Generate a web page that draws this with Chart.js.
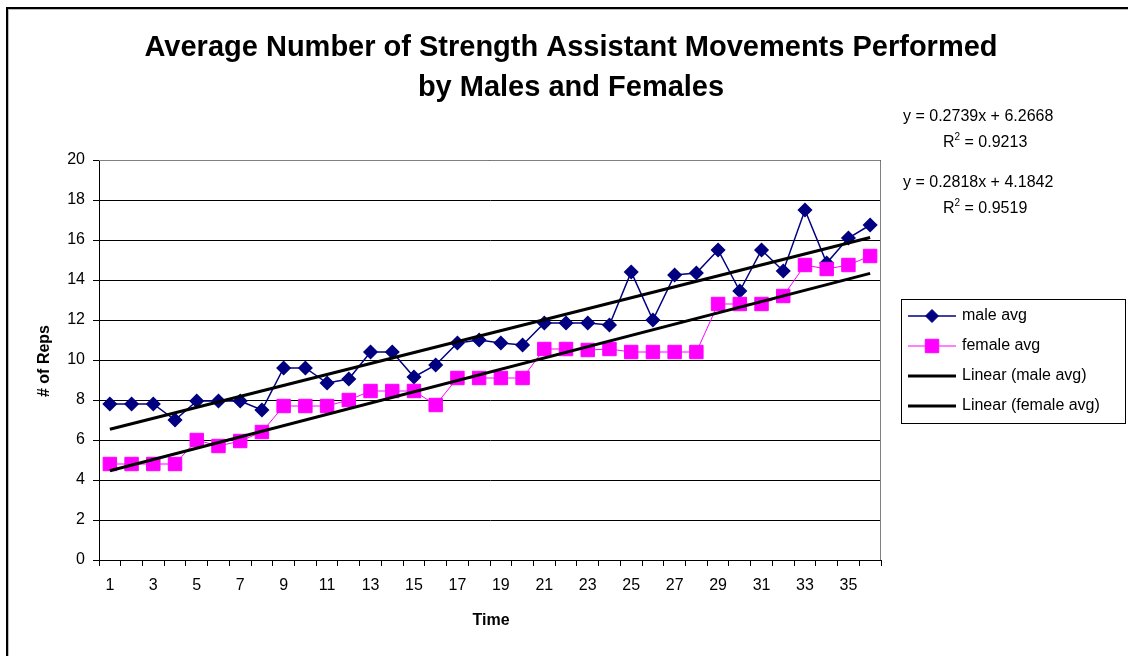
<!DOCTYPE html>
<html lang="en">
<head>
  <meta charset="utf-8">
  <title>Strength Assistant Movements</title>
  <script src="https://cdn.jsdelivr.net/npm/chart.js"></script>
  <style>
    body {
      margin: 0;
      background: #fff;
    }
    .wrap {
      position: relative;
      width: 1128px;
      height: 656px;
      overflow: hidden;
    }
    .frame {
      position: absolute;
      left: 6px;
      top: 7px;
      width: 1140px;
      height: 670px;
      border-left: 2px solid #000;
      border-top: 2px solid #000;
      box-shadow: inset 1px 1px 0 #bbb;
    }
    canvas {
      position: absolute;
      left: 0;
      top: 0;
    }
  </style>
</head>
<body>
  <div class="wrap">
    <div class="frame"></div>
    <canvas id="chart" width="1128" height="656"></canvas>
  </div>
  <script>
    // Data
    const timeLabels = ['1','2','3','4','5','6','7','8','9','10','11','12','13','14','15','16','17','18',
                        '19','20','21','22','23','24','25','26','27','28','29','30','31','32','33','34','35','36'];
    const maleAvg = [7.8, 7.8, 7.8, 7.0, 7.95, 7.95, 7.95, 7.5, 9.6, 9.6, 8.85, 9.05,
                     10.4, 10.4, 9.15, 9.75, 10.85, 11.0, 10.85, 10.75, 11.85, 11.85, 11.85, 11.75,
                     14.4, 12.0, 14.25, 14.35, 15.5, 13.45, 15.5, 14.45, 17.5, 14.85, 16.1, 16.75];
    const femaleAvg = [4.8, 4.8, 4.8, 4.8, 6.0, 5.7, 5.95, 6.4, 7.7, 7.7, 7.7, 8.0,
                       8.45, 8.45, 8.45, 7.75, 9.1, 9.1, 9.1, 9.1, 10.55, 10.55, 10.5, 10.55,
                       10.4, 10.4, 10.4, 10.4, 12.8, 12.8, 12.8, 13.2, 14.75, 14.55, 14.75, 15.2];
    // Trendline equations as printed on the chart: [slope, intercept, R2]
    const maleFit = [0.2739, 6.2668, 0.9213];
    const femaleFit = [0.2818, 4.1842, 0.9519];
    const yTicks = [0, 2, 4, 6, 8, 10, 12, 14, 16, 18, 20];

    const FONT = "'Liberation Sans', Arial, sans-serif";
    const NAVY = '#000080';
    const MAGENTA = '#ff00ff';

    // trendline: only the two end points, the gap is spanned
    function trendData(fit) {
      const n = timeLabels.length;
      return timeLabels.map((t, i) => (i === 0 || i === n - 1) ? fit[0] * Number(t) + fit[1] : null);
    }

    const decorations = {
      id: 'decorations',
      beforeDatasetsDraw(chart) {
        const ctx = chart.ctx;
        const a = chart.chartArea;
        ctx.save();
        ctx.strokeStyle = '#808080';
        ctx.lineWidth = 1;
        ctx.beginPath();
        ctx.moveTo(a.left, a.top + 0.5);
        ctx.lineTo(a.right - 0.5, a.top + 0.5);
        ctx.lineTo(a.right - 0.5, a.bottom);
        ctx.stroke();
        ctx.restore();
      },
      afterDraw(chart) {
        const ctx = chart.ctx;
        ctx.save();
        ctx.fillStyle = '#000';

        // title
        ctx.font = 'bold 29px ' + FONT;
        ctx.textAlign = 'center';
        ctx.textBaseline = 'middle';
        ctx.fillText('Average Number of Strength Assistant Movements Performed', 571, 48);
        ctx.fillText('by Males and Females', 571, 88);

        // axis titles
        ctx.font = 'bold 16px ' + FONT;
        ctx.fillText('Time', 491, 621);
        ctx.save();
        ctx.translate(45, 361);
        ctx.rotate(-Math.PI / 2);
        ctx.fillText('# of Reps', 0, 0);
        ctx.restore();

        // trendline equations
        function equation(fit, y) {
          ctx.font = '16px ' + FONT;
          ctx.textAlign = 'left';
          ctx.fillText('y = ' + fit[0].toFixed(4) + 'x + ' + fit[1].toFixed(4), 903, y);
          let x = 943;
          ctx.fillText('R', x, y + 26);
          x += ctx.measureText('R').width;
          ctx.font = '10px ' + FONT;
          ctx.fillText('2', x, y + 20);
          x += ctx.measureText('2').width;
          ctx.font = '16px ' + FONT;
          ctx.fillText(' = ' + fit[2].toFixed(4), x, y + 26);
        }
        equation(maleFit, 117);
        equation(femaleFit, 183);

        // legend
        ctx.strokeStyle = '#000';
        ctx.lineWidth = 1;
        ctx.strokeRect(901.5, 299.5, 224, 124);
        const rows = [316, 346, 376, 406];
        chart.data.datasets.forEach((ds, i) => {
          const y = rows[i];
          ctx.strokeStyle = ds.borderColor;
          ctx.lineWidth = ds.borderWidth;
          ctx.beginPath();
          ctx.moveTo(908, y);
          ctx.lineTo(956, y);
          ctx.stroke();
          if (ds.pointRadius > 0) {
            ctx.fillStyle = ds.pointBackgroundColor;
            ctx.strokeStyle = ds.pointBorderColor;
            ctx.lineWidth = 1;
            Chart.helpers.drawPoint(ctx, {
              pointStyle: ds.pointStyle,
              radius: ds.pointRadius,
              borderWidth: 1,
              rotation: 0
            }, 932, y);
          }
          ctx.fillStyle = '#000';
          ctx.font = '16px ' + FONT;
          ctx.textAlign = 'left';
          ctx.fillText(ds.label, 962, y);
        });
        ctx.restore();
      }
    };

    new Chart(document.getElementById('chart'), {
      type: 'line',
      data: {
        labels: timeLabels,
        datasets: [
          {
            label: 'male avg',
            data: maleAvg,
            borderColor: NAVY,
            borderWidth: 1.5,
            pointStyle: 'rectRot',
            pointRadius: 6.5,
            pointBackgroundColor: NAVY,
            pointBorderColor: NAVY,
            tension: 0,
            order: 2
          },
          {
            label: 'female avg',
            data: femaleAvg,
            borderColor: MAGENTA,
            borderWidth: 1,
            pointStyle: 'rect',
            pointRadius: 9.5,
            pointBackgroundColor: MAGENTA,
            pointBorderColor: MAGENTA,
            tension: 0,
            order: 1
          },
          {
            label: 'Linear (male avg)',
            data: trendData(maleFit),
            borderColor: '#000',
            borderWidth: 3,
            pointRadius: 0,
            spanGaps: true,
            order: 0
          },
          {
            label: 'Linear (female avg)',
            data: trendData(femaleFit),
            borderColor: '#000',
            borderWidth: 3,
            pointRadius: 0,
            spanGaps: true,
            order: 0
          }
        ]
      },
      options: {
        responsive: false,
        animation: false,
        layout: { padding: { top: 160, right: 247, left: 0, bottom: 0 } },
        plugins: {
          legend: { display: false },
          title: { display: false },
          tooltip: { enabled: false }
        },
        scales: {
          x: {
            offset: true,
            afterFit(scale) { scale.height = 96; },
            grid: {
              offset: true,
              drawOnChartArea: false,
              color: '#000',
              tickLength: 6
            },
            border: { color: '#000', width: 1 },
            ticks: {
              autoSkip: false,
              maxRotation: 0,
              padding: 10,
              color: '#000',
              font: { family: FONT, size: 16 },
              callback(value, index) {
                return index % 2 === 0 ? timeLabels[index] : '';
              }
            }
          },
          y: {
            min: 0,
            max: 20,
            afterFit(scale) { scale.width = 99; },
            afterBuildTicks(scale) {
              scale.ticks = yTicks.map(v => ({ value: v }));
            },
            grid: {
              color: '#000',
              tickLength: 6
            },
            border: { color: '#000', width: 1 },
            ticks: {
              padding: 8,
              color: '#000',
              font: { family: FONT, size: 16 }
            }
          }
        }
      },
      plugins: [decorations]
    });
  </script>
</body>
</html>
